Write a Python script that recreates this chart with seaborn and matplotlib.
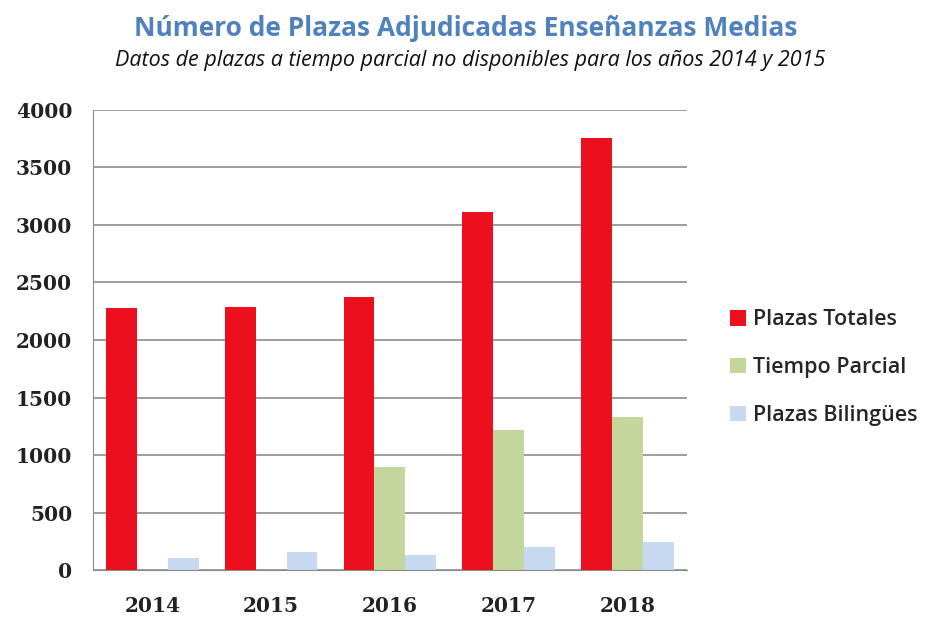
import pandas as pd
import numpy as np
import matplotlib.pyplot as plt
import seaborn as sns

years = ["2014", "2015", "2016", "2017", "2018"]
plazas_totales = [2278, 2290, 2377, 3113, 3754]
tiempo_parcial = [np.nan, np.nan, 899, 1217, 1328]
plazas_bilingues = [101, 159, 130, 203, 246]
series_names = ["Plazas Totales", "Tiempo Parcial", "Plazas Bilingües"]
colors = ["#EC0F1E", "#C3D69B", "#C6D9F0"]

# long format table for seaborn
df = pd.DataFrame({
    "year": years * 3,
    "serie": np.repeat(series_names, len(years)),
    "value": plazas_totales + tiempo_parcial + plazas_bilingues,
})

sns.set_style("white")
plt.rcParams["font.family"] = ["Open Sans", "DejaVu Sans"]

fig = plt.figure(figsize=(9.25, 6.23), dpi=100)
ax = fig.add_axes([0.1005, 0.085, 0.642, 0.7385])

sns.barplot(data=df, x="year", y="value", hue="serie", order=years,
            hue_order=series_names, palette=colors, width=0.78,
            saturation=1, errorbar=None, linewidth=0, ax=ax)

ax.set_ylim(0, 4000)
ax.set_xlim(-0.5, 4.5)
ax.set_yticks(range(0, 4001, 500))
ax.yaxis.grid(True, color="#8c8c8c", linewidth=1.2)
ax.set_axisbelow(True)
ax.set_xlabel("")
ax.set_ylabel("")
for side in ["top", "right"]:
    ax.spines[side].set_visible(False)
ax.spines["left"].set_color("#8c8c8c")
ax.spines["bottom"].set_color("#8c8c8c")
ax.tick_params(axis="y", length=0, pad=15)
ax.tick_params(axis="x", length=0, pad=19)
for lab in ax.get_xticklabels() + ax.get_yticklabels():
    lab.set_family("DejaVu Serif")
    lab.set_fontsize(14.5)
    lab.set_fontweight("bold")
    lab.set_color("#222222")

handles, labels = ax.get_legend_handles_labels()
ax.legend(handles, labels, loc="center left", bbox_to_anchor=(1.04, 0.44),
          frameon=False, handlelength=0.75, handleheight=0.75,
          labelspacing=1.25, handletextpad=0.3,
          prop={"family": "Open Sans", "size": 15.5, "weight": "semibold"})

fig.text(0.503, 0.955, "Número de Plazas Adjudicadas Enseñanzas Medias",
         ha="center", va="center", fontsize=19, fontweight="bold",
         color="#4F81BD")
fig.text(0.508, 0.903, "Datos de plazas a tiempo parcial no disponibles para los años 2014 y 2015",
         ha="center", va="center", fontsize=15.5, style="italic", color="#111111")

fig.savefig("out.png", dpi=100)
